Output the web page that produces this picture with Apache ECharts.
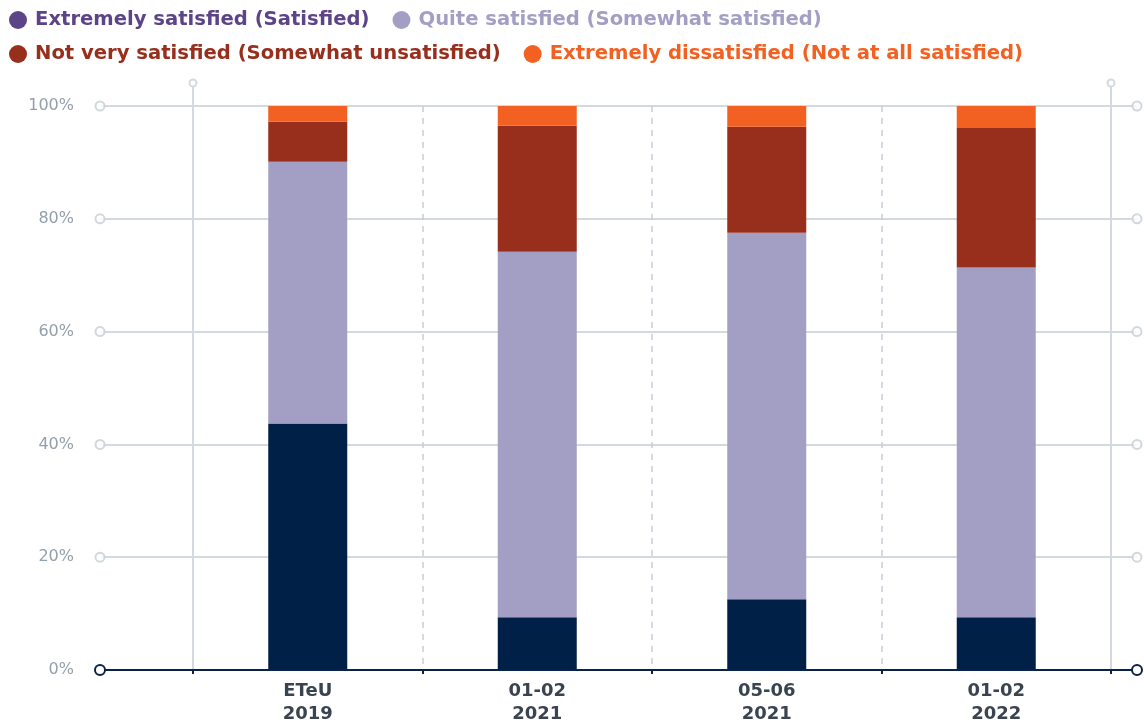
<!DOCTYPE html>
<html>
<head>
<meta charset="utf-8">
<script src="https://cdn.jsdelivr.net/npm/echarts@6/dist/echarts.min.js"></script>
<style>
  html, body { margin: 0; padding: 0; background: #fff; }
  #chart { width: 1144px; height: 726px; }
</style>
</head>
<body>
<div id="chart"></div>
<script>
// Survey waves and share of answers per satisfaction level (%)
const categories = ['ETeU\n2019', '01-02\n2021', '05-06\n2021', '01-02\n2022'];
const seriesNames = [
  'Extremely satisfied (Satisfied)',
  'Quite satisfied (Somewhat satisfied)',
  'Not very satisfied (Somewhat unsatisfied)',
  'Extremely dissatisfied (Not at all satisfied)'
];
const extremelySatisfied = [43.6, 9.2, 12.4, 9.2];
const quiteSatisfied = [46.5, 64.9, 65.1, 62.1];
const notVerySatisfied = [7.1, 22.4, 18.8, 24.8];
const extremelyDissatisfied = [2.8, 3.5, 3.7, 3.9];
const yTicks = [0, 20, 40, 60, 80, 100];

const barColors = ['#012047', '#a39fc4', '#982e1c', '#f26022'];
const legendColors = ['#5c4489', '#a39fc4', '#982e1c', '#f26022'];
const values = [extremelySatisfied, quiteSatisfied, notVerySatisfied, extremelyDissatisfied];

const FONT = 'DejaVu Sans';
const GRID_GRAY = '#d3d9de';
const DASH_GRAY = '#c6ced5';
const NAVY = '#0b2247';

const legendItem = (i) => ({
  name: seriesNames[i],
  itemStyle: { color: legendColors[i] },
  textStyle: { color: legendColors[i] }
});
const legendBase = {
  left: 4,
  icon: 'circle',
  itemWidth: 18,
  itemHeight: 18,
  itemGap: 23,
  selectedMode: false,
  textStyle: { fontFamily: FONT, fontSize: 19.6, fontWeight: 'bold', padding: [0, 0, 0, 3] }
};

// hollow markers at both ends of every horizontal grid line above zero
const endMarkers = [];
yTicks.filter(v => v > 0).forEach(v => { endMarkers.push([0, v]); endMarkers.push([1, v]); });

const chart = echarts.init(document.getElementById('chart'), null, { renderer: 'canvas' });
chart.setOption({
  animation: false,
  backgroundColor: '#ffffff',
  legend: [
    Object.assign({}, legendBase, { top: 5, data: [legendItem(0), legendItem(1)] }),
    Object.assign({}, legendBase, { top: 39, data: [legendItem(2), legendItem(3)] })
  ],
  grid: [
    { left: 100, right: 7, top: 106, bottom: 56 },
    { left: 193, right: 33, top: 106, bottom: 56 },
    { left: 193, right: 33, top: 83, bottom: 56 }
  ],
  xAxis: [
    {
      gridIndex: 0, type: 'value', min: 0, max: 1,
      axisLine: { show: true, lineStyle: { color: NAVY, width: 2 },
        symbol: ['emptyCircle', 'emptyCircle'], symbolSize: [10, 10] },
      axisTick: { show: false }, axisLabel: { show: false }, splitLine: { show: false }
    },
    {
      gridIndex: 1, type: 'category', data: categories, boundaryGap: true,
      axisLine: { show: false },
      axisTick: { show: true, length: 5, lineStyle: { color: NAVY, width: 2 } },
      axisLabel: { color: '#3a4350', fontFamily: FONT, fontSize: 18, fontWeight: 600,
        lineHeight: 23, margin: 11, interval: 0 },
      splitLine: { show: true, interval: 0, lineStyle: { color: DASH_GRAY, width: 1.5, type: [6, 6] } }
    },
    { gridIndex: 2, type: 'value', min: 0, max: 1, show: false }
  ],
  yAxis: [
    {
      gridIndex: 0, type: 'value', min: 0, max: 100, interval: 20,
      axisLine: { show: false }, axisTick: { show: false },
      axisLabel: { formatter: '{value}%', color: '#939fab', fontFamily: FONT, fontSize: 16, margin: 26 },
      splitLine: { show: true, lineStyle: { color: GRID_GRAY, width: 2 } }
    },
    { gridIndex: 1, type: 'value', min: 0, max: 100, show: false },
    {
      gridIndex: 2, type: 'value', min: 0, max: 1, position: 'left',
      axisLine: { show: true, onZero: false, lineStyle: { color: GRID_GRAY, width: 2 },
        symbol: ['none', 'emptyCircle'], symbolSize: [7, 7] },
      axisTick: { show: false }, axisLabel: { show: false }, splitLine: { show: false }
    },
    {
      gridIndex: 2, type: 'value', min: 0, max: 1, position: 'right',
      axisLine: { show: true, onZero: false, lineStyle: { color: GRID_GRAY, width: 2 },
        symbol: ['none', 'emptyCircle'], symbolSize: [7, 7] },
      axisTick: { show: false }, axisLabel: { show: false }, splitLine: { show: false }
    }
  ],
  series: [
    {
      type: 'scatter', xAxisIndex: 0, yAxisIndex: 0, data: endMarkers,
      symbol: 'emptyCircle', symbolSize: 9, silent: true, clip: false, z: 1,
      itemStyle: { color: '#c6ced5', borderWidth: 2 }
    }
  ].concat(values.map((vals, i) => ({
    name: seriesNames[i],
    type: 'bar',
    stack: 'total',
    xAxisIndex: 1,
    yAxisIndex: 1,
    barWidth: 79,
    data: vals,
    itemStyle: { color: barColors[i] },
    z: 3
  })))
});
</script>
</body>
</html>
